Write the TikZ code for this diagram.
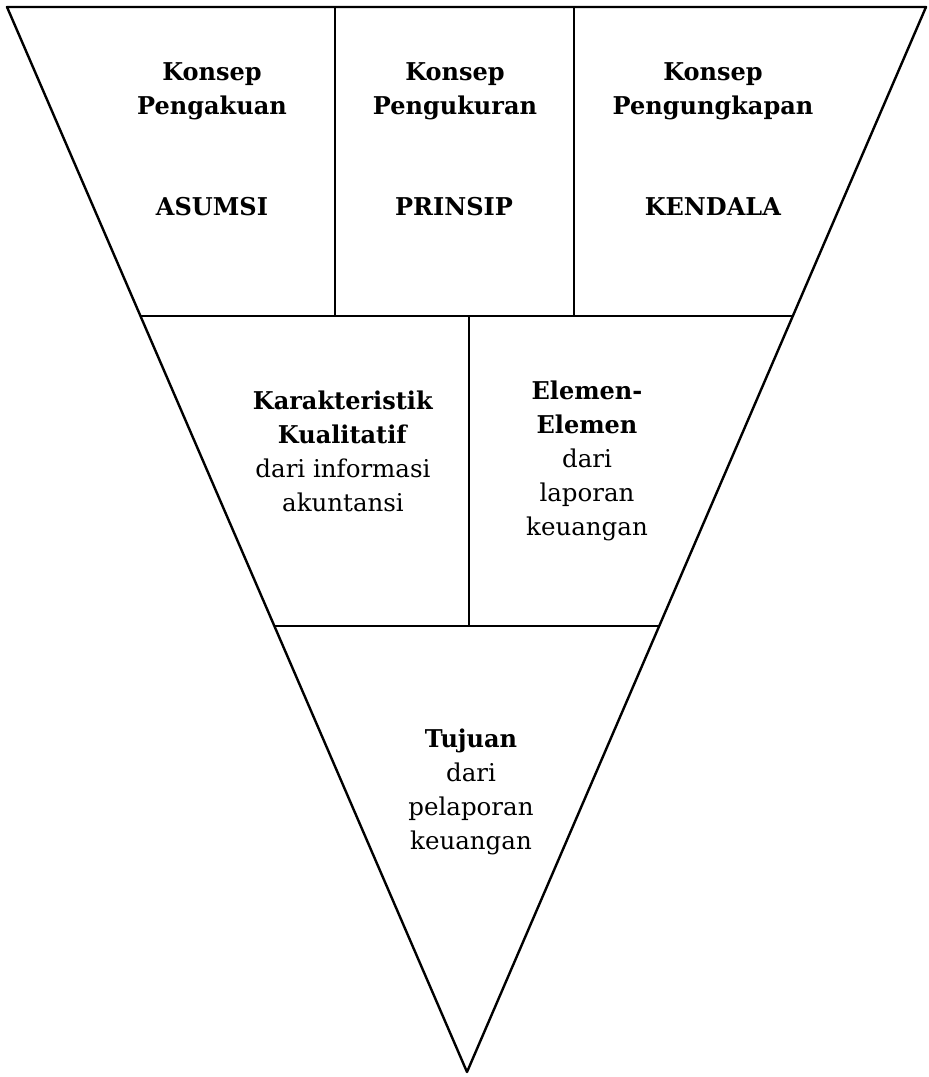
\documentclass[tikz,border=0pt]{standalone}
\usepackage{fontspec}
\setmainfont{DejaVu Serif}[BoldFeatures={FakeStretch=0.98}]
\begin{document}
\begin{tikzpicture}[x=1pt,y=-1pt,line width=2.4pt,
  lbl/.style={align=center,font=\fontsize{24.5}{34}\selectfont,inner sep=0pt,anchor=base}]
\useasboundingbox (0,0) rectangle (929,1077);
\coordinate (TL) at (7,7);
\coordinate (TR) at (926,7);
\coordinate (A) at (467,1072);
\coordinate (L1) at (140.3,316);
\coordinate (R1) at (793.0,316);
\coordinate (L2) at (274.2,626);
\coordinate (R2) at (659.4,626);
\coordinate (V1t) at (335,7);
\coordinate (V1b) at (335,316);
\coordinate (V2t) at (574,7);
\coordinate (V2b) at (574,316);
\coordinate (V3t) at (469,316);
\coordinate (V3b) at (469,626);
\draw[line join=round] (TL) -- (TR) -- (A) -- cycle;
\draw (L1) -- (R1);
\draw (L2) -- (R2);
\draw (V1t) -- (V1b);
\draw (V2t) -- (V2b);
\draw (V3t) -- (V3b);
\node[lbl] (k1) at (212,114) {\textbf{Konsep}\\\textbf{Pengakuan}};
\node[lbl] (a1) at (212,215) {\textbf{ASUMSI}};
\node[lbl] (k2) at (455,114) {\textbf{Konsep}\\\textbf{Pengukuran}};
\node[lbl] (a2) at (454,215) {\textbf{PRINSIP}};
\node[lbl] (k3) at (713,114) {\textbf{Konsep}\\\textbf{Pengungkapan}};
\node[lbl] (a3) at (713,215) {\textbf{KENDALA}};
\node[lbl] (kar) at (343,511) {\textbf{Karakteristik}\\\textbf{Kualitatif}\\dari informasi\\akuntansi};
\node[lbl] (ele) at (587,535) {\textbf{Elemen-}\\\textbf{Elemen}\\dari\\laporan\\keuangan};
\node[lbl] (tuj) at (471,849) {\textbf{Tujuan}\\dari\\pelaporan\\keuangan};
\end{tikzpicture}
\end{document}
